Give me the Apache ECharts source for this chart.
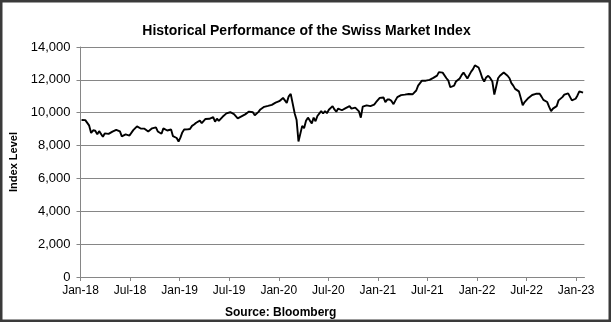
<!DOCTYPE html>
<html>
<head>
<meta charset="utf-8">
<script src="https://cdn.jsdelivr.net/npm/echarts@6/dist/echarts.min.js"></script>
<style>
  html, body { margin: 0; padding: 0; background: #fff; }
  #chart { width: 613px; height: 323px; }
</style>
</head>
<body>
<div id="chart"></div>
<script>
// Swiss Market Index, weekly Friday closes from 5 Jan 2018 onward
const firstFriday = '2018-01-05';

const smi2018 = [
  9560, 9530, 9550, 9520,
  9230, 8770, 8930, 8900,
  8680, 8880, 8800, 8540, 8740,
  8640, 8710, 8800, 8850,
  8810, 8960, 8930, 8860,
  8560, 8580, 8680, 8620, 8610,
  8650, 8940, 9030, 9170,
  9200, 9040, 9000, 9030, 8970,
  8860, 8900, 9050, 9090,
  9110, 8860, 8980, 8720,
  9050, 9080, 8920, 8830, 8980,
  8570, 8680, 8460, 8250
];
const smi2019 = [
  8480, 8800, 8980, 8950,
  8990, 9010, 9200, 9280,
  9390, 9330, 9520, 9360, 9480,
  9620, 9550, 9630, 9700,
  9730, 9450, 9640, 9500, 9560,
  9750, 9860, 9960, 9900,
  10030, 9960, 9920, 9980,
  9660, 9640, 9780, 9750, 9900,
  10000, 10070, 10100, 10030,
  9850, 9950, 10050, 10200,
  10280, 10360, 10350, 10420, 10440,
  10480, 10550, 10610, 10660
];
const smi2020 = [
  10700, 10770, 10900, 10850, 10600,
  11000, 11150, 11220, 9950,
  9550, 8250, 8150, 9200,
  9060, 9510, 9700, 9520,
  9350, 9700, 9480, 9800, 9860,
  10100, 9950, 10100, 9970,
  10180, 10180, 10400, 10200, 10060,
  10250, 10200, 10150, 10120,
  10280, 10370, 10400, 10250,
  10260, 10310, 10260, 10080, 9700,
  10370, 10470, 10450, 10500,
  10400, 10370, 10490, 10640
];
const smi2021 = [
  10700, 10900, 10850, 10930, 10650,
  10800, 10800, 10720, 10520,
  10750, 10950, 10880, 11070,
  11120, 11100, 11150, 11140, 11100,
  11120, 11040, 11350, 11650,
  11750, 11950, 11900, 11950,
  12000, 12000, 11990, 12120, 12130,
  12260, 12470, 12510, 12440,
  12390, 12100, 11950, 11550,
  11500, 11650, 11900, 11920, 12080,
  12290, 12450, 12500, 12080,
  12160, 12500, 12650, 12880, 12900
];
const smi2022 = [
  12750, 12450, 12100, 11900,
  12150, 12250, 12100, 11900,
  11100, 11600, 12100, 12250,
  12350, 12450, 12400, 12250, 12100,
  11800, 11650, 11450, 11500,
  11300, 10900, 10450, 10650,
  10750, 10900, 10850, 11080, 11100,
  11150, 11180, 11150, 10980,
  10780, 10800, 10650, 10350, 10100,
  10250, 10150, 10400, 10750,
  10700, 10950, 11100, 11150,
  11180, 11100, 10750, 10750, 10850
];
const smi2023 = [11050, 11300, 11380, 11220];

// Half-yearly axis labels, placed at month 0, 6, 12, ...
const tickLabels = ['Jan-18', 'Jul-18', 'Jan-19', 'Jul-19', 'Jan-20', 'Jul-20',
                    'Jan-21', 'Jul-21', 'Jan-22', 'Jul-22', 'Jan-23'];
const yTicks = [0, 2000, 4000, 6000, 8000, 10000, 12000, 14000];

const values = [].concat(smi2018, smi2019, smi2020, smi2021, smi2022, smi2023);

// Fractional months elapsed since 1 Jan 2018
function monthPos(ms) {
  const d = new Date(ms);
  const y = d.getUTCFullYear(), mo = d.getUTCMonth();
  const dim = new Date(Date.UTC(y, mo + 1, 0)).getUTCDate();
  return (y - 2018) * 12 + mo + (d.getUTCDate() - 1) / dim;
}

const start = Date.parse(firstFriday + 'T00:00:00Z');
const WEEK = 7 * 86400000;
const seriesData = values.map((v, i) => [monthPos(start + i * WEEK), v]);

const FONT = '"Liberation Sans", Arial, sans-serif';
const GRID_GREY = '#868686';

const chart = echarts.init(document.getElementById('chart'), null, { renderer: 'canvas' });
chart.setOption({
  animation: false,
  backgroundColor: '#ffffff',
  textStyle: { fontFamily: FONT, color: '#000' },
  title: {
    text: 'Historical Performance of the Swiss Market Index',
    left: 'center',
    top: 19,
    textStyle: { fontFamily: FONT, fontSize: 14, fontWeight: 'bold', color: '#000' }
  },
  grid: { left: 80.5, right: 28.6, top: 47, bottom: 46, containLabel: false },
  xAxis: {
    type: 'value',
    min: 0,
    max: 61,
    interval: 6,
    axisLine: { show: true, lineStyle: { color: GRID_GREY, width: 1 } },
    axisTick: {
      show: true, length: 4, inside: false,
      customValues: tickLabels.map((_, i) => i * 6),
      lineStyle: { color: GRID_GREY }
    },
    axisLabel: {
      customValues: tickLabels.map((_, i) => i * 6),
      formatter: v => tickLabels[Math.round(v / 6)] || '',
      margin: 8,
      fontFamily: FONT, fontSize: 12, color: '#000'
    },
    splitLine: { show: false }
  },
  yAxis: {
    type: 'value',
    min: 0,
    max: 14000,
    interval: 2000,
    name: 'Index Level',
    nameLocation: 'middle',
    nameRotate: 90,
    nameGap: 58,
    nameTextStyle: { fontFamily: FONT, fontSize: 11, fontWeight: 'bold', color: '#000' },
    axisLine: { show: true, lineStyle: { color: GRID_GREY, width: 1 } },
    axisTick: { show: true, length: 4, inside: false, lineStyle: { color: GRID_GREY } },
    axisLabel: {
      margin: 10,
      formatter: v => yTicks.includes(v) ? v.toLocaleString('en-US') : '',
      fontFamily: FONT, fontSize: 13, color: '#000'
    },
    splitLine: { show: true, lineStyle: { color: GRID_GREY, width: 1 } }
  },
  series: [{
    type: 'line',
    data: seriesData,
    showSymbol: false,
    symbol: 'none',
    lineStyle: { color: '#000', width: 1.9 },
    z: 5
  }],
  graphic: [
    {
      type: 'text',
      left: 282 - 57, top: 307,
      style: {
        text: 'Source: Bloomberg',
        fontFamily: FONT, fontSize: 12, fontWeight: 'bold', fill: '#000'
      }
    },
    {
      type: 'rect',
      shape: { x: 1.25, y: 1.25, width: 608.5, height: 319.5 },
      style: { fill: 'none', stroke: '#3a3a3a', lineWidth: 2.5 },
      silent: true
    }
  ]
});
</script>
</body>
</html>
